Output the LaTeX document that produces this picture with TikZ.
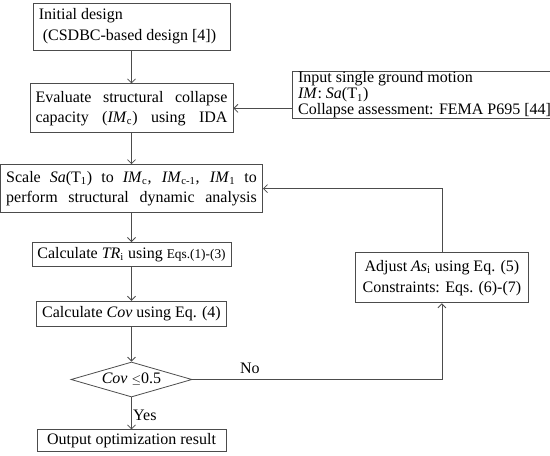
\documentclass[tikz,border=0pt]{standalone}
\usepackage{fontspec}
\setmainfont{Liberation Serif}
\usetikzlibrary{positioning,arrows.meta,shapes.geometric}
\newcommand{\IM}{\textit{IM}}
\newcommand{\spread}[2]{\makebox[#1][s]{#2}}

\begin{document}
\begin{tikzpicture}[
  x=0.75pt, y=-0.75pt,
  font=\fontsize{12}{14}\selectfont,
  box/.style={draw=black!70, line width=0.6pt, inner xsep=4pt, inner ysep=0pt, align=center},
  dec/.style={draw=black!70, line width=0.6pt, diamond, aspect=3.5, inner sep=0pt, minimum width=90.75pt, minimum height=26.25pt},
  arr/.style={-{Straight Barb[length=3pt,width=6pt]}, draw=black!70, line width=0.6pt},
  lab/.style={inner sep=1pt}
]
\useasboundingbox (0,0) rectangle (550,455);
% main column
\node[box, align=left, minimum width=147.75pt, minimum height=35.25pt, font=\fontsize{12}{15.5}\selectfont] (init) at (131.5,26.5)
  {\makebox[139pt][l]{Initial design}\\\hspace{0.25em}(CSDBC-based design [4])};
\node[box, minimum width=152.25pt, minimum height=36.75pt, font=\fontsize{12}{15}\selectfont, below=24.75pt of init] (eval)
  {\spread{144pt}{Evaluate structural collapse}\\\spread{144pt}{capacity (\IM\textsubscript{c}) using IDA}};
\node[box, minimum width=196.5pt, minimum height=36pt, font=\fontsize{12}{15}\selectfont, below=23.25pt of eval] (scale)
  {\spread{188pt}{Scale \textit{Sa}(T\textsubscript{1}) to \IM\textsubscript{c}, \IM\textsubscript{c-1}, \IM\textsubscript{1} to}\\\spread{188pt}{perform structural dynamic analysis}};
\node[box, minimum width=142.5pt, minimum height=18pt, below=21.75pt of scale] (calctr)
  {Calculate \textit{TR}\textsubscript{i} using {\fontsize{10}{12}\selectfont Eqs.(1)-(3)}};
\node[box, minimum width=134.25pt, minimum height=18.75pt, below=25.5pt of calctr] (calccov)
  {Calculate \textit{Cov} using Eq. (4)};
\node[dec, below=26.25pt of calccov] (check) {\textit{Cov} {\small$\leq$}0.5};
\node[box, minimum width=141.75pt, minimum height=16.5pt, below=24pt of check] (out)
  {Output optimization result};
% right column
\node[box, align=left, minimum width=192pt, minimum height=31.5pt, font=\fontsize{12}{12}\selectfont, right=44.25pt of eval, yshift=10.1pt] (inp)
  {Input single ground motion\\\IM: \textit{Sa}(T\textsubscript{1})\\Collapse assessment: FEMA P695 [44]};
\node[box, minimum width=129.75pt, minimum height=37.5pt, font=\fontsize{12}{16}\selectfont, below=100.5pt of inp, xshift=13pt] (adj)
  {Adjust \textit{As}\textsubscript{i} using Eq. (5)\\Constraints: Eqs. (6)-(7)};
% connectors
\draw[arr] (init) -- (eval);
\draw[arr] (eval) -- (scale);
\draw[arr] (scale) -- (calctr);
\draw[arr] (calctr) -- (calccov);
\draw[arr] (calccov) -- (check);
\draw[arr] (check) -- node[lab, right, pos=0.55]{Yes} (out);
\draw[arr] (inp.west |- eval.east) -- (eval.east);
\draw[arr] (check.east) -| node[lab, above=3pt, pos=0.115]{No} (adj.south);
\draw[arr] (adj.north) |- (scale.east);
\end{tikzpicture}
\end{document}
